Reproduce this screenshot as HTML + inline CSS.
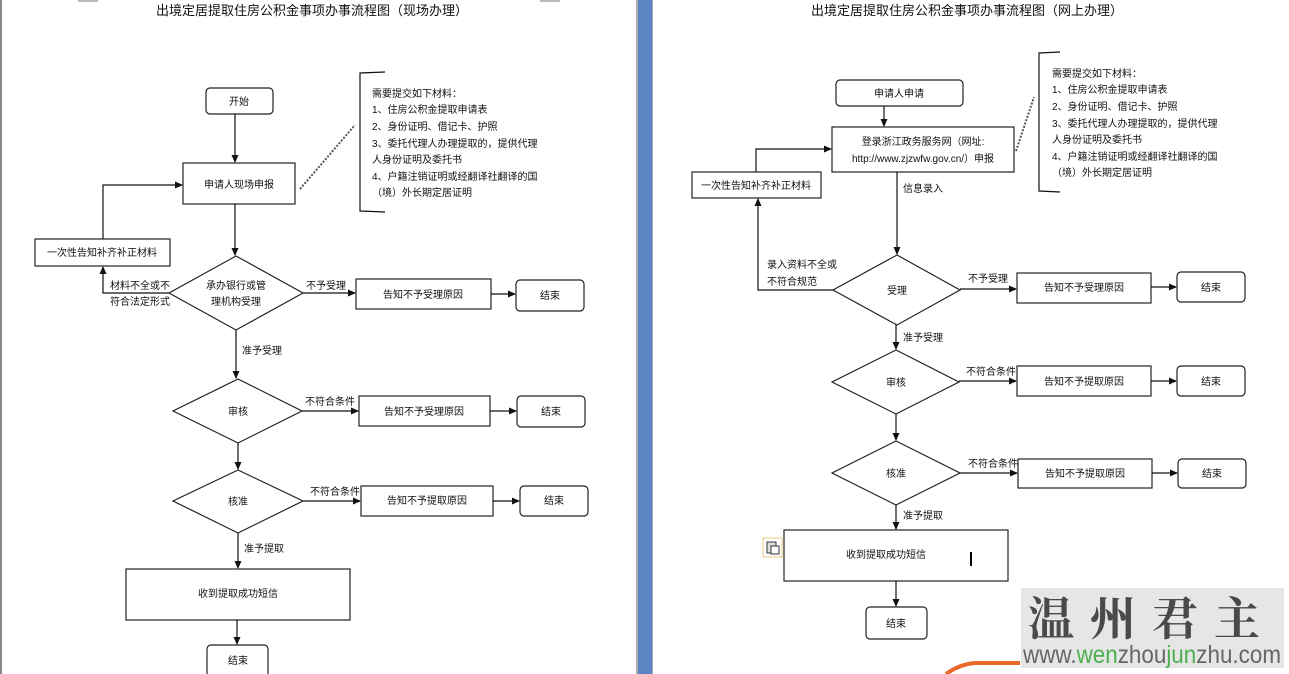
<!DOCTYPE html>
<html><head><meta charset="utf-8"><style>
html,body{margin:0;padding:0;background:#fff;width:1289px;height:674px;overflow:hidden}
svg{display:block}
text{font-family:"Liberation Sans","Noto Sans CJK SC",sans-serif;font-size:10px;fill:#111}
.t{font-size:13px}
.n{fill:#fff;stroke:#222;stroke-width:1.2}
.l{stroke:#111;stroke-width:1.2;fill:none}
</style></head><body>
<svg width="1289" height="674" viewBox="0 0 1289 674" xmlns="http://www.w3.org/2000/svg">
<defs><marker id="a" markerWidth="8" markerHeight="8" refX="7" refY="4" orient="auto" markerUnits="userSpaceOnUse"><path d="M0,0.5 L8,4 L0,7.5z" fill="#111"/></marker></defs>
<rect x="0" y="0" width="2" height="674" fill="#888"/>
<rect x="636" y="0" width="2" height="674" fill="#aaa"/>
<rect x="638" y="0" width="14" height="674" fill="#5b84c0"/>
<rect x="652" y="0" width="1" height="674" fill="#9ab"/>
<rect x="78" y="0" width="20" height="2" fill="#bbb"/><rect x="540" y="0" width="20" height="2" fill="#bbb"/>

<!-- LEFT -->
<text class="t" x="312" y="15" text-anchor="middle">出境定居提取住房公积金事项办事流程图（现场办理）</text>
<rect class="n" x="206" y="88" width="67" height="26" rx="4"/><text x="239" y="105" text-anchor="middle">开始</text>
<line class="l" x1="235" y1="114" x2="235" y2="162" marker-end="url(#a)"/>
<rect class="n" x="183" y="163" width="112" height="41"/><text x="239" y="188" text-anchor="middle">申请人现场申报</text>
<line x1="300" y1="189" x2="355" y2="125" stroke="#555" stroke-width="2" stroke-dasharray="2,1.5"/>
<path class="l" d="M385,72 L360,73 L360,211 L385,212"/>
<text x="372" y="97">需要提交如下材料：</text>
<text x="372" y="113">1、住房公积金提取申请表</text>
<text x="372" y="130">2、身份证明、借记卡、护照</text>
<text x="372" y="147">3、委托代理人办理提取的，提供代理</text>
<text x="372" y="163">人身份证明及委托书</text>
<text x="372" y="180">4、户籍注销证明或经翻译社翻译的国</text>
<text x="372" y="196">（境）外长期定居证明</text>
<rect class="n" x="35" y="239" width="135" height="27"/><text x="102" y="256" text-anchor="middle">一次性告知补齐补正材料</text>
<path class="l" d="M103,239 L103,185 L182,185" marker-end="url(#a)"/>
<line class="l" x1="235" y1="204" x2="235" y2="255" marker-end="url(#a)"/>
<polygon class="n" points="236,256 303,293 236,330 169,293"/>
<text x="236" y="289" text-anchor="middle">承办银行或管</text><text x="236" y="305" text-anchor="middle">理机构受理</text>
<path class="l" d="M169,293 L103,293 L103,267" marker-end="url(#a)"/>
<text x="110" y="289">材料不全或不</text><text x="110" y="305">符合法定形式</text>
<line class="l" x1="303" y1="293" x2="355" y2="293" marker-end="url(#a)"/>
<text x="306" y="289">不予受理</text>
<rect class="n" x="356" y="279" width="135" height="30"/><text x="423" y="298" text-anchor="middle">告知不予受理原因</text>
<line class="l" x1="491" y1="294" x2="515" y2="294" marker-end="url(#a)"/>
<rect class="n" x="516" y="280" width="68" height="31" rx="4"/><text x="550" y="299" text-anchor="middle">结束</text>
<line class="l" x1="236" y1="330" x2="236" y2="378" marker-end="url(#a)"/>
<text x="242" y="354">准予受理</text>
<polygon class="n" points="238,379 302,411 238,443 173,411"/><text x="238" y="415" text-anchor="middle">审核</text>
<line class="l" x1="302" y1="411" x2="358" y2="411" marker-end="url(#a)"/>
<text x="305" y="405">不符合条件</text>
<rect class="n" x="359" y="396" width="131" height="30"/><text x="424" y="415" text-anchor="middle">告知不予受理原因</text>
<line class="l" x1="490" y1="411" x2="516" y2="411" marker-end="url(#a)"/>
<rect class="n" x="517" y="396" width="68" height="31" rx="4"/><text x="551" y="415" text-anchor="middle">结束</text>
<line class="l" x1="238" y1="443" x2="238" y2="469" marker-end="url(#a)"/>
<polygon class="n" points="238,470 303,501 238,533 173,501"/><text x="238" y="505" text-anchor="middle">核准</text>
<line class="l" x1="303" y1="501" x2="360" y2="501" marker-end="url(#a)"/>
<text x="310" y="495">不符合条件</text>
<rect class="n" x="361" y="486" width="132" height="30"/><text x="427" y="504" text-anchor="middle">告知不予提取原因</text>
<line class="l" x1="493" y1="501" x2="519" y2="501" marker-end="url(#a)"/>
<rect class="n" x="520" y="486" width="68" height="30" rx="4"/><text x="554" y="504" text-anchor="middle">结束</text>
<line class="l" x1="238" y1="533" x2="238" y2="568" marker-end="url(#a)"/>
<text x="244" y="552">准予提取</text>
<rect class="n" x="126" y="569" width="224" height="51"/><text x="238" y="597" text-anchor="middle">收到提取成功短信</text>
<line class="l" x1="237" y1="620" x2="237" y2="644" marker-end="url(#a)"/>
<rect class="n" x="207" y="645" width="61" height="34" rx="4"/><text x="238" y="664" text-anchor="middle">结束</text>

<!-- RIGHT -->
<text class="t" x="967" y="15" text-anchor="middle">出境定居提取住房公积金事项办事流程图（网上办理）</text>
<rect class="n" x="836" y="80" width="127" height="26" rx="4"/><text x="899" y="97" text-anchor="middle">申请人申请</text>
<line class="l" x1="884" y1="106" x2="884" y2="126" marker-end="url(#a)"/>
<rect class="n" x="832" y="127" width="182" height="45"/>
<text x="923" y="145" text-anchor="middle">登录浙江政务服务网（网址:</text>
<text x="923" y="162" text-anchor="middle">http://www.zjzwfw.gov.cn/）申报</text>
<line x1="1016" y1="151" x2="1034" y2="97" stroke="#555" stroke-width="2" stroke-dasharray="2,1.5"/>
<path class="l" d="M1060,52 L1039,53 L1039,191 L1060,192"/>
<text x="1052" y="77">需要提交如下材料：</text>
<text x="1052" y="93">1、住房公积金提取申请表</text>
<text x="1052" y="110">2、身份证明、借记卡、护照</text>
<text x="1052" y="127">3、委托代理人办理提取的，提供代理</text>
<text x="1052" y="143">人身份证明及委托书</text>
<text x="1052" y="160">4、户籍注销证明或经翻译社翻译的国</text>
<text x="1052" y="176">（境）外长期定居证明</text>
<rect class="n" x="692" y="172" width="129" height="26"/><text x="756" y="189" text-anchor="middle">一次性告知补齐补正材料</text>
<path class="l" d="M756,172 L756,149 L831,149" marker-end="url(#a)"/>
<line class="l" x1="897" y1="172" x2="897" y2="254" marker-end="url(#a)"/>
<text x="903" y="192">信息录入</text>
<polygon class="n" points="897,255 960,290 897,325 833,290"/><text x="897" y="294" text-anchor="middle">受理</text>
<path class="l" d="M833,290 L758,290 L758,199" marker-end="url(#a)"/>
<text x="767" y="268">录入资料不全或</text><text x="767" y="285">不符合规范</text>
<line class="l" x1="960" y1="289" x2="1016" y2="289" marker-end="url(#a)"/>
<text x="968" y="282">不予受理</text>
<rect class="n" x="1017" y="273" width="134" height="30"/><text x="1084" y="291" text-anchor="middle">告知不予受理原因</text>
<line class="l" x1="1151" y1="287" x2="1176" y2="287" marker-end="url(#a)"/>
<rect class="n" x="1177" y="272" width="68" height="30" rx="4"/><text x="1211" y="291" text-anchor="middle">结束</text>
<line class="l" x1="896" y1="325" x2="896" y2="349" marker-end="url(#a)"/>
<text x="903" y="341">准予受理</text>
<polygon class="n" points="896,350 959,382 896,414 832,382"/><text x="896" y="386" text-anchor="middle">审核</text>
<line class="l" x1="959" y1="381" x2="1016" y2="381" marker-end="url(#a)"/>
<text x="966" y="375">不符合条件</text>
<rect class="n" x="1017" y="366" width="134" height="30"/><text x="1084" y="385" text-anchor="middle">告知不予提取原因</text>
<line class="l" x1="1151" y1="381" x2="1176" y2="381" marker-end="url(#a)"/>
<rect class="n" x="1177" y="366" width="68" height="30" rx="4"/><text x="1211" y="385" text-anchor="middle">结束</text>
<line class="l" x1="896" y1="414" x2="896" y2="440" marker-end="url(#a)"/>
<polygon class="n" points="896,441 960,473 896,505 832,473"/><text x="896" y="477" text-anchor="middle">核准</text>
<line class="l" x1="960" y1="473" x2="1017" y2="473" marker-end="url(#a)"/>
<text x="968" y="467">不符合条件</text>
<rect class="n" x="1018" y="459" width="134" height="29"/><text x="1085" y="477" text-anchor="middle">告知不予提取原因</text>
<line class="l" x1="1152" y1="473" x2="1177" y2="473" marker-end="url(#a)"/>
<rect class="n" x="1178" y="459" width="68" height="29" rx="4"/><text x="1212" y="477" text-anchor="middle">结束</text>
<line class="l" x1="896" y1="505" x2="896" y2="529" marker-end="url(#a)"/>
<text x="903" y="519">准予提取</text>
<rect class="n" x="784" y="530" width="224" height="51"/><text x="886" y="558" text-anchor="middle">收到提取成功短信</text>
<rect x="970" y="552" width="2" height="14" fill="#000"/>
<rect x="763" y="538" width="19" height="19" fill="#fff" stroke="#e8c880"/>
<rect x="767" y="542" width="9" height="11" fill="#ddd" stroke="#333"/><rect x="771" y="546" width="8" height="8" fill="#fff" stroke="#333"/>
<line class="l" x1="896" y1="581" x2="896" y2="606" marker-end="url(#a)"/>
<rect class="n" x="866" y="607" width="61" height="32" rx="4"/><text x="896" y="627" text-anchor="middle">结束</text>

<!-- watermark -->
<path d="M946,674 Q960,664 975,663 L1020,663" stroke="#e8692a" stroke-width="4" fill="none"/>
<rect x="1021" y="588" width="263" height="80" fill="#e6e6e6"/>
<text x="1152" y="635" text-anchor="middle" style="font-family:'Noto Serif CJK SC',serif;font-size:46px;font-weight:bold;fill:#4a4a4a;letter-spacing:16px">温州君主</text>
<text x="1023" y="663" textLength="258" lengthAdjust="spacingAndGlyphs" style="font-size:25px;fill:#666">www.<tspan fill="#4caf50">wen</tspan>zhou<tspan fill="#4caf50">jun</tspan>zhu.com</text>
</svg>
</body></html>
